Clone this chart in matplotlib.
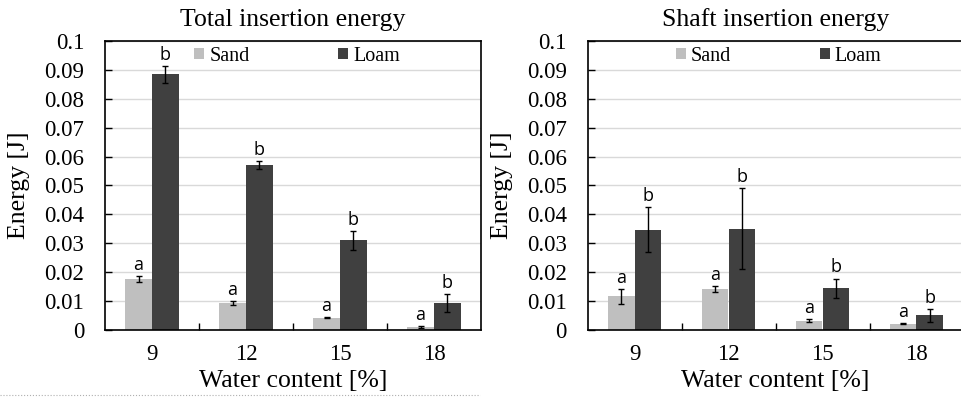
import matplotlib
matplotlib.use("Agg")
import matplotlib.pyplot as plt
import numpy as np

water = ["9", "12", "15", "18"]

total_sand = [0.0177, 0.0093, 0.0043, 0.0011]
total_sand_err = [0.0010, 0.0008, 0.0002, 0.0003]
total_loam = [0.0885, 0.0571, 0.0310, 0.0093]
total_loam_err = [0.0029, 0.0013, 0.0032, 0.0030]

shaft_sand = [0.0116, 0.0142, 0.0032, 0.0022]
shaft_sand_err = [0.0025, 0.0010, 0.0005, 0.0002]
shaft_loam = [0.0347, 0.0350, 0.0144, 0.0051]
shaft_loam_err = [0.0077, 0.0140, 0.0034, 0.0023]

sand_letters = ["a", "a", "a", "a"]
loam_letters = ["b", "b", "b", "b"]

SAND = "#bfbfbf"
LOAM = "#404040"
SERIF = ["Liberation Serif", "DejaVu Serif"]
SANS = ["Open Sans", "DejaVu Sans"]

fig = plt.figure(figsize=(9.62, 3.97), dpi=100)
ax1 = fig.add_axes([105 / 962, 67 / 397, 376 / 962, 289 / 397])
ax2 = fig.add_axes([587.5 / 962, 67 / 397, 376 / 962, 289 / 397])


def panel(ax, title, sand, sand_err, loam, loam_err, legend_x):
    x = np.arange(len(water))
    w = 0.287
    ax.bar(x - w / 2, sand, w, color=SAND, label="Sand", zorder=2)
    ax.bar(x + w / 2, loam, w, color=LOAM, label="Loam", zorder=2)
    ax.errorbar(x - w / 2, sand, yerr=sand_err, fmt="none", ecolor="black",
                elinewidth=1, capsize=2.5, capthick=1, zorder=3)
    ax.errorbar(x + w / 2, loam, yerr=loam_err, fmt="none", ecolor="black",
                elinewidth=1, capsize=2.5, capthick=1, zorder=3)
    for i in range(len(water)):
        ax.annotate(sand_letters[i], (x[i] - w / 2, sand[i] + sand_err[i]),
                    xytext=(0, 1.5), textcoords="offset points", ha="center",
                    va="bottom", fontsize=13, family=SANS)
        ax.annotate(loam_letters[i], (x[i] + w / 2, loam[i] + loam_err[i]),
                    xytext=(0, 1.5), textcoords="offset points", ha="center",
                    va="bottom", fontsize=13, family=SANS)
    ax.set_xlim(-0.5, len(water) - 0.5)
    ax.set_ylim(0, 0.1)
    yt = np.arange(0, 0.1001, 0.01)
    ax.set_yticks(yt)
    ax.set_yticklabels(["0"] + [f"{v:.2f}" for v in yt[1:-1]] + ["0.1"],
                       family=SERIF, fontsize=16.5)
    ax.set_xticks(x)
    ax.set_xticklabels(water, family=SERIF, fontsize=16.5)
    ax.set_xticks(np.arange(0.5, len(water) - 1), minor=True)
    ax.tick_params(axis="x", which="major", length=0, pad=10)
    ax.tick_params(axis="x", which="minor", direction="in", length=5, width=1)
    ax.tick_params(axis="y", direction="in", length=5, width=1, pad=15)
    ax.grid(axis="y", color="#d9d9d9", linewidth=1, zorder=0)
    ax.set_axisbelow(True)
    for s in ax.spines.values():
        s.set_color("black")
        s.set_linewidth(1.2)
    ax.set_title(title, family=SERIF, fontsize=18.5, pad=11)
    ax.set_xlabel("Water content [%]", family=SERIF, fontsize=18.5, labelpad=4)
    ax.set_ylabel("Energy [J]", family=SERIF, fontsize=18.5, labelpad=10)
    ax.legend(ncol=2, loc="center left", bbox_to_anchor=(legend_x, 0.947),
              frameon=False, prop={"family": SERIF, "size": 14.5},
              handlelength=0.5, handleheight=0.5, handletextpad=0.25,
              columnspacing=4.4, borderpad=0, borderaxespad=0)


panel(ax1, "Total insertion energy", total_sand, total_sand_err,
      total_loam, total_loam_err, 0.237)
panel(ax2, "Shaft insertion energy", shaft_sand, shaft_sand_err,
      shaft_loam, shaft_loam_err, 0.235)

fig.add_artist(plt.Line2D([0, 480 / 962], [2 / 397, 2 / 397],
                          transform=fig.transFigure, color="#b0b0b0",
                          linestyle=":", linewidth=0.8))

fig.savefig("out.png", dpi=100)
